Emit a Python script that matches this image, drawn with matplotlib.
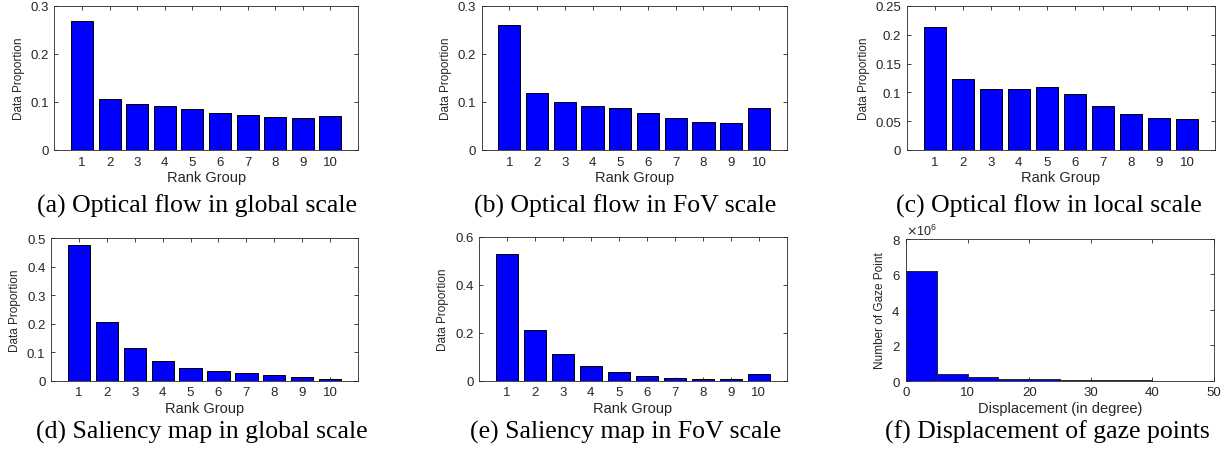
import numpy as np
import matplotlib
matplotlib.use("Agg")
import matplotlib.pyplot as plt
from matplotlib.ticker import FuncFormatter, ScalarFormatter

# data
rank_groups = [1, 2, 3, 4, 5, 6, 7, 8, 9, 10]
flow_global = [0.268, 0.107, 0.096, 0.092, 0.085, 0.078, 0.073, 0.069, 0.067, 0.071]
flow_fov = [0.261, 0.118, 0.099, 0.092, 0.087, 0.078, 0.066, 0.059, 0.057, 0.088]
flow_local = [0.213, 0.123, 0.105, 0.105, 0.110, 0.098, 0.077, 0.063, 0.056, 0.054]
saliency_global = [0.474, 0.206, 0.115, 0.070, 0.044, 0.035, 0.027, 0.019, 0.013, 0.007]
saliency_fov = [0.530, 0.213, 0.110, 0.060, 0.035, 0.020, 0.010, 0.006, 0.006, 0.028]

disp_edges = [0, 5, 10, 15, 20, 25, 30, 35, 40, 45, 50]
disp_counts = [6.19e6, 0.38e6, 0.19e6, 0.11e6, 0.07e6, 0.04e6, 0.025e6, 0.015e6, 0.01e6, 0.006e6]

captions = ['(a) Optical flow in global scale', '(b) Optical flow in FoV scale',
            '(c) Optical flow in local scale', '(d) Saliency map in global scale',
            '(e) Saliency map in FoV scale', '(f) Displacement of gaze points']

BLUE = '#0000ff'
DARK = '#262626'
SANS = 'Liberation Sans'
SERIF = 'Liberation Serif'

plt.rcParams['font.family'] = SANS
plt.rcParams['axes.linewidth'] = 0.6


def style_axes(ax):
    ax.tick_params(direction='in', length=3, width=0.6, colors=DARK, labelsize=9.5,
                   top=True, right=True, pad=4)
    for s in ax.spines.values():
        s.set_color(DARK)


def rank_bar(ax, values, ymax, ystep):
    ax.bar(rank_groups, values, width=0.8, color=BLUE, edgecolor='black', linewidth=0.7)
    ax.set_xlim(0, 11)
    ax.set_ylim(0, ymax)
    ax.set_xticks(rank_groups)
    ax.set_yticks(np.arange(0, ymax + ystep / 2, ystep))
    ax.yaxis.set_major_formatter(FuncFormatter(lambda v, p: '%g' % round(v, 3)))
    ax.set_xlabel('Rank Group', fontsize=10.5, color=DARK, labelpad=2)
    ax.set_ylabel('Data Proportion', fontsize=8.5, color=DARK, labelpad=4)
    style_axes(ax)


fig = plt.figure(figsize=(12.24, 4.52), dpi=100)

# axes boxes in figure fractions [left, bottom, width, height]
boxes = [
    [0.0444, 0.666, 0.2481, 0.3186],
    [0.3935, 0.666, 0.2492, 0.3186],
    [0.7408, 0.666, 0.2519, 0.3186],
    [0.0417, 0.1555, 0.2508, 0.3157],
    [0.3913, 0.1555, 0.2514, 0.3180],
    [0.7402, 0.1555, 0.2516, 0.3135],
]
axes = [fig.add_axes(b) for b in boxes]

rank_bar(axes[0], flow_global, 0.3, 0.1)
rank_bar(axes[1], flow_fov, 0.3, 0.1)
rank_bar(axes[2], flow_local, 0.25, 0.05)
rank_bar(axes[3], saliency_global, 0.5, 0.1)
rank_bar(axes[4], saliency_fov, 0.6, 0.2)

# displacement histogram
ax = axes[5]
ax.bar(disp_edges[:-1], disp_counts, width=np.diff(disp_edges), align='edge',
       color=BLUE, edgecolor=DARK, linewidth=0.7)
ax.set_xlim(0, 50)
ax.set_ylim(0, 8e6)
ax.set_xticks(np.arange(0, 51, 10))
ax.set_yticks(np.arange(0, 8.1e6, 2e6))
fmt = ScalarFormatter(useMathText=True)
fmt.set_powerlimits((0, 0))
ax.yaxis.set_major_formatter(fmt)
ax.yaxis.get_offset_text().set_fontsize(9)
ax.yaxis.get_offset_text().set_color(DARK)
ax.set_xlabel('Displacement (in degree)', fontsize=10.5, color=DARK, labelpad=2)
ax.set_ylabel('Number of Gaze Point', fontsize=8.5, color=DARK, labelpad=4)
style_axes(ax)

# captions under each panel
cap_pos = [(0.161, 0.544), (0.511, 0.544), (0.857, 0.544),
           (0.165, 0.044), (0.511, 0.044), (0.856, 0.044)]
for (cx, cy), text in zip(cap_pos, captions):
    fig.text(cx, cy, text, ha='center', va='center', fontsize=18.5,
             family=SERIF, color='black')

fig.savefig('out.png', dpi=100)
